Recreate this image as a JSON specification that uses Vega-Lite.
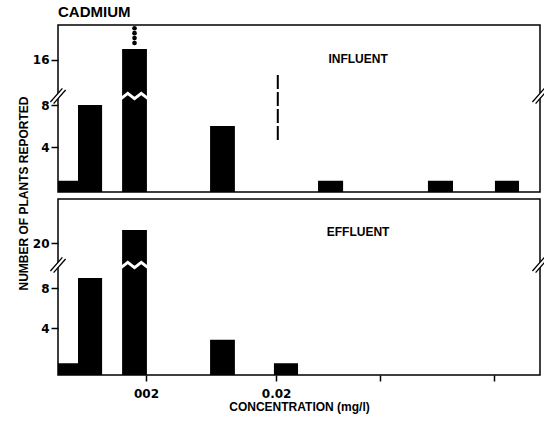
{
  "$schema": "https://vega.github.io/schema/vega-lite/v6.json",
  "background": "white",
  "padding": {"left": 16, "top": 4, "right": 4, "bottom": 4},
  "spacing": 7,
  "bounds": "flush",
  "config": {
    "view": {"stroke": "black", "strokeWidth": 1.5},
    "axis": {
      "domain": false, "grid": false,
      "labelFont": "DejaVu Sans", "labelFontWeight": "bold", "labelFontSize": 12, "labelColor": "black",
      "tickColor": "black", "tickWidth": 1.5,
      "titleFont": "Liberation Sans", "titleFontWeight": "bold", "titleFontSize": 12, "titleColor": "black"
    },
    "text": {"font": "Liberation Sans"}
  },
  "datasets": {
    "influent": [
      {"lo": 0, "hi": 0.83, "n": 1},
      {"lo": 0.83, "hi": 1.83, "n": 8},
      {"lo": 2.66, "hi": 3.69, "n": 17},
      {"lo": 6.31, "hi": 7.34, "n": 6},
      {"lo": 10.79, "hi": 11.83, "n": 1},
      {"lo": 15.35, "hi": 16.39, "n": 1},
      {"lo": 18.13, "hi": 19.13, "n": 1}
    ],
    "effluent": [
      {"lo": 0, "hi": 0.83, "n": 1},
      {"lo": 0.83, "hi": 1.83, "n": 9},
      {"lo": 2.66, "hi": 3.69, "n": 22},
      {"lo": 6.31, "hi": 7.34, "n": 3},
      {"lo": 8.96, "hi": 9.96, "n": 1}
    ],
    "overflow": [
      {"x": 3.175, "y": 17.55},
      {"x": 3.175, "y": 18.0},
      {"x": 3.175, "y": 18.45},
      {"x": 3.175, "y": 18.9}
    ],
    "edges": [{"x": 0}, {"x": 20}],
    "one": [{}]
  },
  "vconcat": [
    {
      "width": 482,
      "height": 167,
      "title": {"text": "CADMIUM", "anchor": "start", "frame": "group", "font": "Liberation Sans", "fontSize": 15, "fontWeight": "bold", "color": "black", "offset": 5},
      "layer": [
        {
          "data": {"name": "influent"},
          "mark": {"type": "bar", "color": "black"},
          "encoding": {
            "x": {"field": "lo", "type": "quantitative", "scale": {"domain": [0, 20], "nice": false, "zero": false}, "axis": null},
            "x2": {"field": "hi"},
            "y": {
              "field": "n", "type": "quantitative",
              "scale": {"domain": [0, 4, 8, 8.86, 12.7, 19.2], "range": [167, 122, 80, 71, 71, 0], "nice": false, "zero": false},
              "axis": {"values": [4, 8, 16], "tickSize": 7, "labelPadding": 2, "title": "NUMBER OF PLANTS REPORTED", "titleX": -35, "titleY": 168, "titleBaseline": "middle", "titleAngle": 270, "titleAlign": "center"}
            },
            "y2": {"datum": 0}
          }
        },
        {
          "data": {"name": "overflow"},
          "mark": {"type": "point", "shape": "circle", "filled": true, "color": "black", "size": 22, "opacity": 1},
          "encoding": {
            "x": {"field": "x", "type": "quantitative"},
            "y": {"field": "y", "type": "quantitative"}
          }
        },
        {
          "data": {"name": "one"},
          "mark": {"type": "point", "shape": "M-1,0.2L-0.5,-0.2L0,0.2L0.5,-0.2L1,0.2", "filled": false, "stroke": "white", "strokeWidth": 3, "size": 729, "opacity": 1},
          "encoding": {
            "x": {"datum": 3.175, "type": "quantitative"},
            "y": {"datum": 10, "type": "quantitative"}
          }
        },
        {
          "data": {"name": "one"},
          "mark": {"type": "rule", "color": "black", "strokeWidth": 2, "strokeDash": [14, 3]},
          "encoding": {
            "x": {"datum": 9.12, "type": "quantitative"},
            "y": {"datum": 4.67, "type": "quantitative"},
            "y2": {"datum": 14.8}
          }
        },
        {
          "data": {"name": "one"},
          "mark": {"type": "text", "text": "INFLUENT", "fontSize": 12, "fontWeight": "bold", "color": "black", "align": "center", "baseline": "middle"},
          "encoding": {
            "x": {"datum": 12.45, "type": "quantitative"},
            "y": {"datum": 16.1, "type": "quantitative"}
          }
        },
        {
          "data": {"name": "edges"},
          "mark": {"type": "point", "shape": "M-0.95,0.75L0.55,-0.95L0.95,-0.75L-0.55,0.95Z", "filled": true, "fill": "white", "strokeWidth": 0, "size": 256, "opacity": 1},
          "encoding": {
            "x": {"field": "x", "type": "quantitative"},
            "y": {"datum": 10, "type": "quantitative"}
          }
        },
        {
          "data": {"name": "edges"},
          "mark": {"type": "point", "shape": "M-0.95,0.75L0.55,-0.95M-0.55,0.95L0.95,-0.75", "filled": false, "stroke": "black", "strokeWidth": 1.3, "size": 256, "opacity": 1},
          "encoding": {
            "x": {"field": "x", "type": "quantitative"},
            "y": {"datum": 10, "type": "quantitative"}
          }
        }
      ]
    },
    {
      "width": 482,
      "height": 176,
      "layer": [
        {
          "data": {"name": "effluent"},
          "mark": {"type": "bar", "color": "black"},
          "encoding": {
            "x": {
              "field": "lo", "type": "quantitative",
              "scale": {"domain": [0, 20], "nice": false, "zero": false},
              "axis": {"values": [3.65, 9.05, 13.36, 18.09], "labelExpr": "datum.value == 3.65 ? '002' : datum.value == 9.05 ? '0.02' : ''", "tickSize": 6, "labelPadding": 7, "title": "CONCENTRATION (mg/l)", "titlePadding": 2}
            },
            "x2": {"field": "hi"},
            "y": {
              "field": "n", "type": "quantitative",
              "scale": {"domain": [0, 4, 8, 10.3, 16.6, 26.8], "range": [176, 129, 89, 66, 66, 0], "nice": false, "zero": false},
              "axis": {"values": [4, 8, 20], "tickSize": 7, "labelPadding": 2, "title": null}
            },
            "y2": {"datum": 0}
          }
        },
        {
          "data": {"name": "one"},
          "mark": {"type": "point", "shape": "M-1,0.2L-0.5,-0.2L0,0.2L0.5,-0.2L1,0.2", "filled": false, "stroke": "white", "strokeWidth": 3, "size": 729, "opacity": 1},
          "encoding": {
            "x": {"datum": 3.175, "type": "quantitative"},
            "y": {"datum": 13, "type": "quantitative"}
          }
        },
        {
          "data": {"name": "one"},
          "mark": {"type": "text", "text": "EFFLUENT", "fontSize": 12, "fontWeight": "bold", "color": "black", "align": "center", "baseline": "middle"},
          "encoding": {
            "x": {"datum": 12.45, "type": "quantitative"},
            "y": {"datum": 21.7, "type": "quantitative"}
          }
        },
        {
          "data": {"name": "edges"},
          "mark": {"type": "point", "shape": "M-0.95,0.75L0.55,-0.95L0.95,-0.75L-0.55,0.95Z", "filled": true, "fill": "white", "strokeWidth": 0, "size": 256, "opacity": 1},
          "encoding": {
            "x": {"field": "x", "type": "quantitative"},
            "y": {"datum": 13, "type": "quantitative"}
          }
        },
        {
          "data": {"name": "edges"},
          "mark": {"type": "point", "shape": "M-0.95,0.75L0.55,-0.95M-0.55,0.95L0.95,-0.75", "filled": false, "stroke": "black", "strokeWidth": 1.3, "size": 256, "opacity": 1},
          "encoding": {
            "x": {"field": "x", "type": "quantitative"},
            "y": {"datum": 13, "type": "quantitative"}
          }
        }
      ]
    }
  ]
}
